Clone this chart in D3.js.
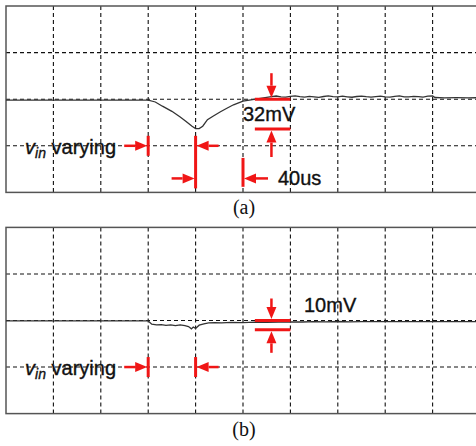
<!DOCTYPE html>
<html>
<head>
<meta charset="utf-8">
<script src="https://cdn.jsdelivr.net/npm/d3@7.9.0/dist/d3.min.js"></script>
<style>
  html, body { margin: 0; padding: 0; background: #fff; }
  svg { display: block; }
  .sans { font-family: "Liberation Sans", Arial, sans-serif; stroke: #111; stroke-width: 0.35px; }
  .serif { font-family: "Liberation Serif", "Times New Roman", serif; }
</style>
</head>
<body>
<svg id="chart" width="476" height="446"></svg>
<script>
// scope settings: 40us/div, 50mV/div
const timeTicks = [0, 40, 80, 120, 160, 200, 240, 280, 320, 360, 400];
const voltTicks = [-100, -50, 0, 50, 100];
const captions = ["(a)", "(b)"];

// trace (a): [time us, output mV]
const traceA = [
  [0, -1], [120, -1], [126, -3], [132, -7.5], [140, -13], [147, -19], [152, -24],
  [157, -29], [160, -31.5], [163, -31.5], [166, -29], [170, -22], [175, -18],
  [181, -13.5], [186, -10], [192, -6], [200, -2], [208, -0.5], [216, 1.2],
  [220, 2.0], [224, 2.8], [228, 3.4], [232, 2.6], [236, 2.2], [240, 3.0],
  [244, 3.6], [248, 2.7], [252, 2.3], [256, 3.1], [260, 2.5], [264, 2.0],
  [268, 2.9], [272, 3.5], [276, 2.8], [280, 2.4], [284, 3.2], [288, 2.6],
  [292, 2.1], [296, 2.9], [300, 3.4], [304, 2.7], [308, 2.3], [312, 2.8],
  [316, 3.3], [320, 2.5], [324, 2.2], [328, 3.0], [332, 3.5], [336, 2.6],
  [340, 2.4], [344, 3.1], [348, 2.7], [352, 2.3], [356, 3.2], [360, 3.6],
  [362, 1.8], [370, 1.5], [380, 1.6], [390, 1.5], [400, 1.6]
];

// trace (b): [time us, output mV]
const traceB = [
  [0, -0.5], [120, -0.5], [123, -4], [127, -4.8], [131, -4.4], [135, -5.2],
  [139, -4.6], [143, -5.4], [147, -4.8], [151, -5.6], [154, -6.5], [156.5, -9],
  [158, -7], [160, -8.5], [163, -5], [167, -3.5], [171, -2.5], [176, -2.2],
  [182, -2.6], [190, -2.0], [200, -2.2], [210, -1.8], [220, -2.0], [230, -1.7],
  [240, -1.5], [250, -1.6], [260, -1.2], [270, -1.4], [280, -1.1], [290, -1.5],
  [300, -1.2], [320, -1.3], [340, -1.2], [360, -1.3], [380, -1.2], [400, -1.2]
];

// annotation values
const varyStart = 120, varyEnd = 160;   // us
const delayEnd = 200;                   // us
const dropA = 32, dropB = 10;           // mV
const delayLabel = "40us";

const RED = "#f01616";
const svg = d3.select("#chart");

const x = d3.scaleLinear().domain([0, 400]).range([6, 480]);

function arrow(g, x1, y1, x2, y2) {
  const ang = Math.atan2(y2 - y1, x2 - x1);
  const hl = 12, hw = 5;
  const bx = x2 - hl * Math.cos(ang), by = y2 - hl * Math.sin(ang);
  g.append("line")
    .attr("x1", x1).attr("y1", y1).attr("x2", bx).attr("y2", by)
    .attr("stroke", RED).attr("stroke-width", 2.5);
  const px = -Math.sin(ang) * hw, py = Math.cos(ang) * hw;
  g.append("path")
    .attr("d", `M${x2},${y2}L${bx + px},${by + py}L${bx - px},${by - py}Z`)
    .attr("fill", RED);
}

function bar(g, x1, y1, x2, y2) {
  g.append("line")
    .attr("x1", x1).attr("y1", y1).attr("x2", x2).attr("y2", y2)
    .attr("stroke", RED).attr("stroke-width", 3);
}

function label(g, xp, yp, txt) {
  return g.append("text").attr("class", "sans")
    .attr("x", xp).attr("y", yp)
    .attr("font-size", 20).attr("fill", "#111").text(txt);
}

function panel(top, bottom, trace, idx) {
  const y = d3.scaleLinear().domain([-100, 100]).range([bottom, top]);
  const g = svg.append("g");

  // dashed graticule
  g.selectAll("line.v").data(timeTicks.slice(1, -1)).join("line")
    .attr("x1", d => x(d)).attr("x2", d => x(d))
    .attr("y1", top).attr("y2", bottom)
    .attr("stroke", "#111").attr("stroke-width", 1.1).attr("stroke-dasharray", "4,3");
  g.selectAll("line.h").data(voltTicks.slice(1, -1)).join("line")
    .attr("x1", x(0)).attr("x2", x(400))
    .attr("y1", d => y(d)).attr("y2", d => y(d))
    .attr("stroke", "#111").attr("stroke-width", 1.1).attr("stroke-dasharray", "4,3");

  // frame
  g.append("rect")
    .attr("x", x(0)).attr("y", top)
    .attr("width", x(400) - x(0)).attr("height", bottom - top)
    .attr("fill", "none").attr("stroke", "#555").attr("stroke-width", 1.5);

  // trace
  const line = d3.line().x(d => x(d[0])).y(d => y(d[1]));
  g.append("path").datum(trace)
    .attr("d", line)
    .attr("fill", "none").attr("stroke", "#333").attr("stroke-width", 1.3);

  // v_in varying label
  const yv = y(-50);
  const lab = label(g, 116, yv + 8, null).attr("text-anchor", "end");
  lab.append("tspan").attr("font-style", "italic").text("v");
  lab.append("tspan").attr("font-style", "italic").attr("font-size", 14).attr("dy", 4).text("in");
  lab.append("tspan").attr("dy", -4).text(" varying");

  // v_in varying interval
  bar(g, x(varyStart), yv - 10, x(varyStart), yv + 10);
  arrow(g, x(varyStart) - 24, yv, x(varyStart) - 1, yv);
  arrow(g, x(varyEnd) + 23, yv, x(varyEnd) + 1, yv);

  const t0 = 210, t1 = 240, tm = 224;
  const drop = idx === 0 ? dropA : dropB;
  if (idx === 0) {
    bar(g, x(varyEnd), yv - 10, x(varyEnd), y(-100) - 4);
    const yd = y(-85);
    arrow(g, x(varyEnd) - 24, yd, x(varyEnd) - 1, yd);
    bar(g, x(delayEnd), y(-63), x(delayEnd), y(-94));
    arrow(g, x(delayEnd) + 25, yd, x(delayEnd) + 1, yd);
    label(g, x(delayEnd) + 35, yd + 7, delayLabel);
  } else {
    bar(g, x(varyEnd), yv - 10, x(varyEnd), yv + 10);
  }

  // amplitude marker
  bar(g, x(t0), y(0), x(t1), y(0));
  bar(g, x(t0), y(-drop), x(t1), y(-drop));
  arrow(g, x(tm), y(0) - (idx === 0 ? 26 : 22), x(tm), y(0) - 1.5);
  arrow(g, x(tm), y(-drop) + (idx === 0 ? 28 : 23), x(tm), y(-drop) + 1.5);
  label(g, idx === 0 ? 243 : 304, idx === 0 ? 121 : y(0) - 9, drop + "mV");

  // caption
  svg.append("text").attr("class", "serif")
    .attr("x", 244).attr("y", bottom + 22)
    .attr("text-anchor", "middle")
    .attr("font-size", 20).attr("fill", "#111").text(captions[idx]);
}

panel(6, 192.4, traceA, 0);
panel(227.4, 413.6, traceB, 1);
</script>
</body>
</html>
